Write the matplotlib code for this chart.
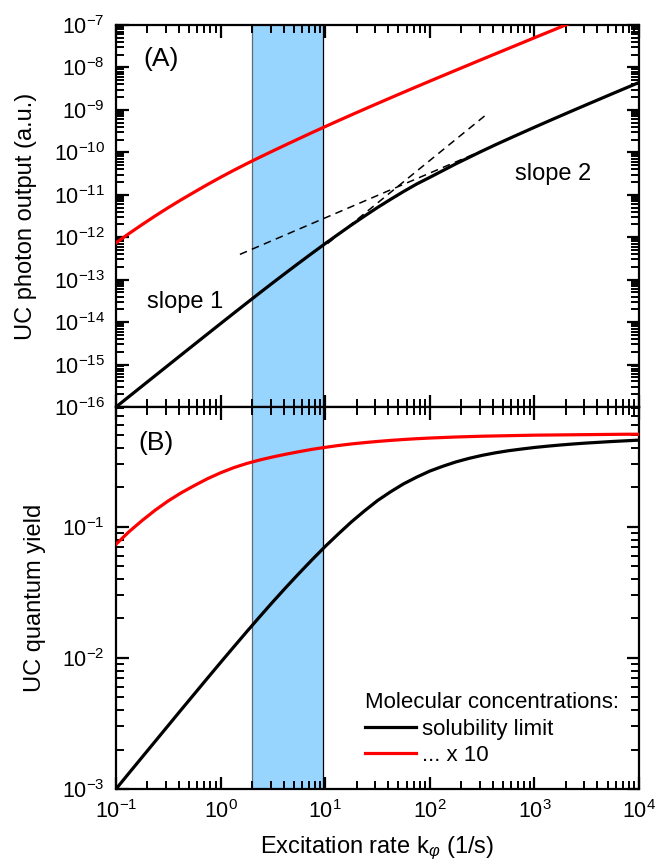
import matplotlib
matplotlib.use('Agg')
import matplotlib.pyplot as plt
from matplotlib.ticker import FixedLocator
import numpy as np

plt.rcParams['font.family'] = ['Liberation Sans', 'DejaVu Sans']
plt.rcParams['mathtext.fontset'] = 'custom'
plt.rcParams['mathtext.rm'] = 'Liberation Sans'
plt.rcParams['mathtext.it'] = 'Liberation Sans:italic'
plt.rcParams['axes.unicode_minus'] = False

# excitation rate k_phi, as log10(k / s^-1)
log_k = [-1.000, -0.875, -0.750, -0.625, -0.500, -0.375, -0.250, -0.125,
         0.000, 0.125, 0.250, 0.375, 0.500, 0.625, 0.750, 0.875,
         1.000, 1.125, 1.250, 1.375, 1.500, 1.625, 1.750, 1.875,
         2.000, 2.125, 2.250, 2.375, 2.500, 2.625, 2.750, 2.875,
         3.000, 3.125, 3.250, 3.375, 3.500, 3.625, 3.750, 3.875, 4.000]

# (A) UC photon output, log10 (a.u.)
log_out_sol = [-16.000, -15.753, -15.507, -15.261, -15.015, -14.769, -14.524, -14.279,
               -14.035, -13.792, -13.550, -13.310, -13.072, -12.837, -12.605, -12.376,
               -12.150, -11.930, -11.713, -11.504, -11.300, -11.108, -10.922, -10.746,
               -10.590, -10.430, -10.270, -10.120, -9.970, -9.825, -9.685, -9.547,
               -9.410, -9.275, -9.141, -9.008, -8.876, -8.745, -8.614, -8.484, -8.354]
log_out_x10 = [-12.133, -11.912, -11.702, -11.498, -11.302, -11.115, -10.935, -10.758,
               -10.588, -10.424, -10.267, -10.115, -9.967, -9.821, -9.677, -9.534,
               -9.394, -9.255, -9.118, -8.983, -8.849, -8.716, -8.584, -8.453,
               -8.323, -8.194, -8.065, -7.937, -7.809, -7.682, -7.555, -7.428,
               -7.301, -7.175, -7.049, -6.923, -6.797, -6.671, -6.545, -6.419, -6.294]

# (B) UC quantum yield, log10
log_qy_sol = [-3.000, -2.878, -2.757, -2.636, -2.515, -2.394, -2.274, -2.154,
              -2.035, -1.917, -1.800, -1.685, -1.572, -1.462, -1.355, -1.251,
              -1.150, -1.055, -0.963, -0.879, -0.800, -0.733, -0.672, -0.621,
              -0.575, -0.538, -0.505, -0.478, -0.455, -0.436, -0.420, -0.407,
              -0.395, -0.385, -0.376, -0.368, -0.361, -0.355, -0.349, -0.344, -0.339]
log_qy_x10 = [-1.133, -1.037, -0.952, -0.873, -0.802, -0.740, -0.685, -0.633,
              -0.588, -0.549, -0.517, -0.490, -0.467, -0.446, -0.427, -0.409,
              -0.394, -0.380, -0.368, -0.358, -0.349, -0.341, -0.334, -0.328,
              -0.323, -0.319, -0.315, -0.312, -0.309, -0.307, -0.305, -0.303,
              -0.301, -0.300, -0.299, -0.298, -0.297, -0.296, -0.295, -0.294, -0.294]

# asymptote guides in (A)
guide_steep_k = [10.5, 343.0]
guide_steep_y = [7.06e-13, 7.57e-10]
guide_flat_k = [1.53, 356.0]
guide_flat_y = [3.94e-13, 1.24e-10]

# highlighted excitation range
band = [2.0, 9.6]

k = 10.0 ** np.array(log_k)

fig = plt.figure(figsize=(6.58, 8.66), dpi=100)
ax1 = fig.add_axes([116/658, 1-407/866, 523/658, 382/866])
ax2 = fig.add_axes([116/658, 1-789/866, 523/658, 382/866], sharex=ax1)

major_pos = [10.0**e for e in range(-18, 6)]
minor_pos = [m * 10.0**e for e in range(-18, 6) for m in range(2, 10)]

for ax in (ax1, ax2):
    ax.set_xscale('log')
    ax.set_yscale('log')
for ax in (ax1, ax2):
    ax.axvspan(band[0], band[1], color='#97d5ff', lw=0, zorder=0)
    ax.axvline(band[0], color='#606870', lw=0.9, zorder=1)
    ax.axvline(band[1], color='black', lw=0.9, zorder=1)
    for s in ax.spines.values():
        s.set_linewidth(1.6)
    ax.xaxis.set_major_locator(FixedLocator(major_pos))
    ax.xaxis.set_minor_locator(FixedLocator(minor_pos))
    ax.yaxis.set_major_locator(FixedLocator(major_pos))
    ax.yaxis.set_minor_locator(FixedLocator(minor_pos))
    ax.tick_params(which='both', direction='in', top=True, right=True)
    ax.tick_params(which='minor', length=5.5, width=1.4)
    ax.tick_params(which='major', length=9, width=1.6, labelsize=15.5, pad=8)

# panel A
ax1.plot(k, 10.0 ** np.array(log_out_sol), color='black', lw=2.3, zorder=3)
ax1.plot(k, 10.0 ** np.array(log_out_x10), color='red', lw=2.3, zorder=3)
ax1.plot(guide_steep_k, guide_steep_y, color='black', lw=1.1, ls=(0, (5, 3.5)), zorder=2)
ax1.plot(guide_flat_k, guide_flat_y, color='black', lw=1.1, ls=(0, (5, 3.5)), zorder=2)
ax1.set_xlim(0.1, 1e4)
ax1.set_ylim(1e-16, 1e-7)
ax1.set_ylabel('UC photon output (a.u.)', fontsize=17, labelpad=12)
ax1.tick_params(axis='x', labelbottom=False)
ax1.text(0.052, 0.911, '(A)', transform=ax1.transAxes, fontsize=19,
         ha='left', va='center')
ax1.text(0.059, 0.259, 'slope 1', transform=ax1.transAxes, fontsize=17,
         ha='left', va='baseline')
ax1.text(0.763, 0.594, 'slope 2', transform=ax1.transAxes, fontsize=17,
         ha='left', va='baseline')

# panel B
ax2.plot(k, 10.0 ** np.array(log_qy_sol), color='black', lw=2.3, zorder=3,
         label='solubility limit')
ax2.plot(k, 10.0 ** np.array(log_qy_x10), color='red', lw=2.3, zorder=3,
         label='... x 10')
ax2.set_ylim(1e-3, 0.82)
ax2.set_ylabel('UC quantum yield', fontsize=17, labelpad=12)
ax2.set_xlabel(r'Excitation rate k$_{\varphi}$ (1/s)', fontsize=17, labelpad=8)
ax2.text(0.042, 0.906, '(B)', transform=ax2.transAxes, fontsize=19,
         ha='left', va='center')
ax2.legend(loc='upper left', bbox_to_anchor=(0.476, 0.254),
           title='Molecular concentrations:', title_fontsize=16,
           fontsize=16, frameon=False, borderpad=0, borderaxespad=0,
           handlelength=2.3, handletextpad=0.25, labelspacing=0.25,
           alignment='left')

fig.savefig('out.png', dpi=100)
